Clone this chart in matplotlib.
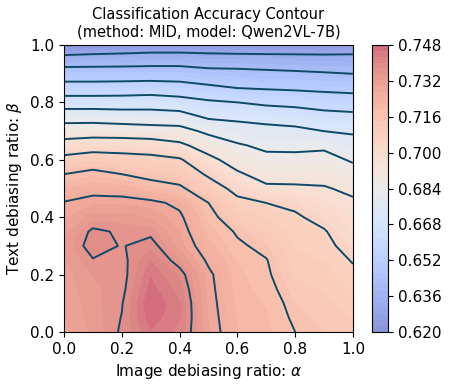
import numpy as np
import matplotlib
matplotlib.use("Agg")
import matplotlib.pyplot as plt
from matplotlib.colors import ListedColormap

# Razões de debiasing (eixos)
alphas = [0.0, 0.1, 0.2, 0.3, 0.4, 0.5, 0.6, 0.7, 0.8, 0.9, 1.0]
betas = [0.00, 0.05, 0.10, 0.15, 0.20, 0.25, 0.30, 0.35, 0.40, 0.45, 0.50,
         0.55, 0.60, 0.65, 0.70, 0.75, 0.80, 0.85, 0.90, 0.95, 1.00]

# Acurácia: uma linha por beta, uma coluna por alpha
accuracy = [
    [0.7290, 0.7330, 0.7380, 0.7450, 0.7420, 0.7300, 0.7220, 0.7200, 0.7160, 0.7140, 0.7120],
    [0.7295, 0.7335, 0.7375, 0.7470, 0.7430, 0.7295, 0.7215, 0.7195, 0.7150, 0.7130, 0.7110],
    [0.7300, 0.7340, 0.7370, 0.7480, 0.7430, 0.7290, 0.7210, 0.7190, 0.7140, 0.7120, 0.7100],
    [0.7305, 0.7345, 0.7360, 0.7465, 0.7415, 0.7285, 0.7205, 0.7180, 0.7125, 0.7110, 0.7084],
    [0.7310, 0.7350, 0.7355, 0.7450, 0.7395, 0.7280, 0.7200, 0.7170, 0.7110, 0.7100, 0.7066],
    [0.7320, 0.7370, 0.7360, 0.7425, 0.7350, 0.7255, 0.7189, 0.7163, 0.7098, 0.7086, 0.7049],
    [0.7330, 0.7395, 0.7370, 0.7395, 0.7310, 0.7230, 0.7171, 0.7142, 0.7087, 0.7072, 0.7026],
    [0.7310, 0.7385, 0.7365, 0.7360, 0.7295, 0.7207, 0.7152, 0.7113, 0.7075, 0.7059, 0.7004],
    [0.7290, 0.7335, 0.7335, 0.7320, 0.7279, 0.7183, 0.7114, 0.7083, 0.7063, 0.7030, 0.6982],
    [0.7271, 0.7291, 0.7291, 0.7282, 0.7252, 0.7160, 0.7076, 0.7053, 0.7038, 0.6992, 0.6960],
    [0.7219, 0.7243, 0.7236, 0.7203, 0.7175, 0.7101, 0.7026, 0.6964, 0.6961, 0.6954, 0.6928],
    [0.7160, 0.7184, 0.7160, 0.7131, 0.7117, 0.7040, 0.6960, 0.6911, 0.6911, 0.6914, 0.6879],
    [0.7084, 0.7107, 0.7093, 0.7082, 0.7064, 0.6973, 0.6904, 0.6867, 0.6867, 0.6873, 0.6829],
    [0.6989, 0.7006, 0.7006, 0.7000, 0.6968, 0.6901, 0.6851, 0.6819, 0.6816, 0.6822, 0.6776],
    [0.6893, 0.6898, 0.6893, 0.6883, 0.6876, 0.6819, 0.6783, 0.6765, 0.6757, 0.6733, 0.6720],
    [0.6797, 0.6797, 0.6787, 0.6782, 0.6776, 0.6718, 0.6709, 0.6698, 0.6684, 0.6662, 0.6653],
    [0.6680, 0.6680, 0.6680, 0.6685, 0.6669, 0.6642, 0.6627, 0.6607, 0.6598, 0.6582, 0.6573],
    [0.6563, 0.6563, 0.6567, 0.6573, 0.6563, 0.6541, 0.6520, 0.6512, 0.6505, 0.6497, 0.6490],
    [0.6467, 0.6467, 0.6467, 0.6467, 0.6467, 0.6449, 0.6444, 0.6436, 0.6429, 0.6421, 0.6413],
    [0.6352, 0.6356, 0.6360, 0.6366, 0.6366, 0.6355, 0.6355, 0.6351, 0.6348, 0.6345, 0.6343],
    [0.6200, 0.6220, 0.6230, 0.6240, 0.6240, 0.6240, 0.6230, 0.6230, 0.6230, 0.6230, 0.6240],
]

method = "MID"
model = "Qwen2VL-7B"

A, B = np.meshgrid(alphas, betas)
Z = np.array(accuracy)
vmin, vmax = Z.min(), Z.max()

# coolwarm clareado (como alpha=0.6 sobre branco, sem as emendas do alpha)
base = plt.get_cmap("coolwarm")(np.linspace(0, 1, 256))
base[:, :3] = 0.6 * base[:, :3] + 0.4
cmap = ListedColormap(base)

fig = plt.figure(figsize=(4.49, 3.88), dpi=100)
ax = fig.add_axes([0.1425, 0.1443, 0.6437, 0.7397])
cax = fig.add_axes([0.8285, 0.1443, 0.0356, 0.7397])

cf = ax.contourf(A, B, Z, levels=np.linspace(vmin, vmax, 50), cmap=cmap)
ax.contour(A, B, Z, levels=np.linspace(vmin, vmax, 13)[1:-1], colors="#0e4a68", linewidths=1.4)

ax.set_xlim(0, 1)
ax.set_ylim(0, 1)
ax.set_xticks(np.arange(0, 1.01, 0.2))
ax.set_yticks(np.arange(0, 1.01, 0.2))
ax.xaxis.set_major_formatter("{x:.1f}")
ax.yaxis.set_major_formatter("{x:.1f}")
ax.tick_params(labelsize=11)
ax.set_xlabel(r"Image debiasing ratio: $\alpha$", fontsize=11)
ax.set_ylabel(r"Text debiasing ratio: $\beta$", fontsize=11)
ax.set_title(f"Classification Accuracy Contour\n(method: {method}, model: {model})", fontsize=10.5)

cbar = fig.colorbar(cf, cax=cax)
cbar.set_ticks(np.linspace(vmin, vmax, 9))
cbar.ax.yaxis.set_major_formatter("{x:.3f}")
cbar.ax.tick_params(labelsize=11)

fig.savefig("out.png", dpi=100)
